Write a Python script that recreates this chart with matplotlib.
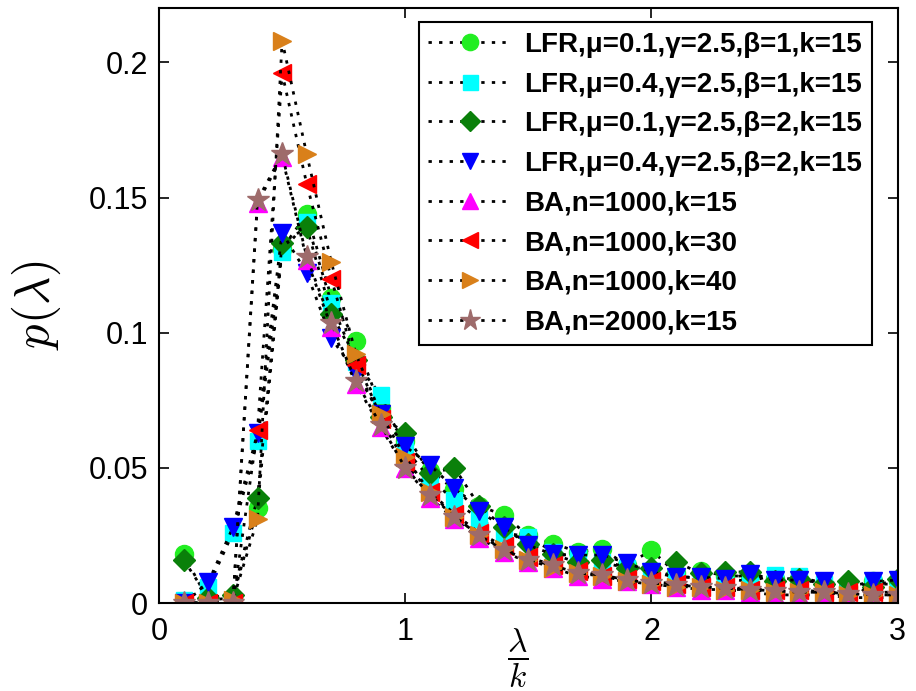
import numpy as np
import matplotlib
matplotlib.use("Agg")
import matplotlib.pyplot as plt

plt.rcParams['font.family'] = ['Liberation Sans', 'DejaVu Sans']
plt.rcParams['mathtext.fontset'] = 'cm'

# lambda / k
x = np.round(np.arange(1, 31) * 0.1, 1)

lfr_mu01_b1 = [0.018, 0.001, 0.002, 0.035, 0.131, 0.144, 0.113, 0.097, 0.072, 0.060,
               0.049, 0.042, 0.036, 0.0325, 0.025, 0.022, 0.019, 0.020, 0.014, 0.0196,
               0.011, 0.012, 0.010, 0.010, 0.009, 0.009, 0.007, 0.006, 0.008, 0.008]
lfr_mu04_b1 = [0.001, 0.006, 0.026, 0.060, 0.130, 0.141, 0.111, 0.089, 0.077, 0.057,
               0.046, 0.038, 0.031, 0.026, 0.0245, 0.019, 0.0165, 0.015, 0.013, 0.012,
               0.010, 0.009, 0.009, 0.008, 0.0104, 0.010, 0.007, 0.006, 0.007, 0.007]
lfr_mu01_b2 = [0.016, 0.002, 0.003, 0.039, 0.133, 0.139, 0.107, 0.090, 0.069, 0.063,
               0.048, 0.050, 0.036, 0.028, 0.022, 0.018, 0.015, 0.016, 0.013, 0.013,
               0.0152, 0.011, 0.0115, 0.0115, 0.008, 0.009, 0.007, 0.008, 0.006, 0.009]
lfr_mu04_b2 = [0.000, 0.0077, 0.028, 0.063, 0.137, 0.122, 0.098, 0.085, 0.070, 0.058,
               0.051, 0.0425, 0.034, 0.028, 0.0214, 0.018, 0.0177, 0.0178, 0.0148, 0.0115,
               0.0096, 0.0096, 0.009, 0.0107, 0.0085, 0.0085, 0.008, 0.000, 0.008, 0.0085]
ba_n1000_k15 = [0.0, 0.0, 0.0, 0.148, 0.165, 0.127, 0.102, 0.081, 0.065, 0.050,
                0.039, 0.031, 0.024, 0.019, 0.015, 0.013, 0.010, 0.009, 0.008, 0.007,
                0.006, 0.005, 0.005, 0.004, 0.003, 0.003, 0.003, 0.002, 0.002, 0.002]
ba_n1000_k30 = [0.0, 0.0, 0.0, 0.064, 0.196, 0.155, 0.120, 0.088, 0.068, 0.052,
                0.041, 0.033, 0.026, 0.021, 0.017, 0.014, 0.012, 0.010, 0.009, 0.008,
                0.007, 0.006, 0.006, 0.005, 0.005, 0.005, 0.004, 0.004, 0.004, 0.004]
ba_n1000_k40 = [0.0, 0.0, 0.001, 0.031, 0.208, 0.166, 0.126, 0.092, 0.070, 0.054,
                0.041, 0.032, 0.025, 0.020, 0.016, 0.013, 0.011, 0.010, 0.008, 0.007,
                0.006, 0.006, 0.005, 0.005, 0.004, 0.004, 0.004, 0.003, 0.003, 0.003]
ba_n2000_k15 = [0.0, 0.0, 0.0, 0.149, 0.166, 0.128, 0.1035, 0.082, 0.066, 0.050,
                0.040, 0.032, 0.025, 0.0196, 0.016, 0.014, 0.011, 0.0104, 0.0085, 0.0074,
                0.0067, 0.006, 0.0055, 0.005, 0.0045, 0.004, 0.004, 0.0035, 0.003, 0.003]

labels = ["LFR,μ=0.1,γ=2.5,β=1,k=15", "LFR,μ=0.4,γ=2.5,β=1,k=15",
          "LFR,μ=0.1,γ=2.5,β=2,k=15", "LFR,μ=0.4,γ=2.5,β=2,k=15",
          "BA,n=1000,k=15", "BA,n=1000,k=30", "BA,n=1000,k=40", "BA,n=2000,k=15"]
series = [lfr_mu01_b1, lfr_mu04_b1, lfr_mu01_b2, lfr_mu04_b2,
          ba_n1000_k15, ba_n1000_k30, ba_n1000_k40, ba_n2000_k15]
markers = ["o", "s", "D", "v", "^", "<", ">", "*"]
colors = ["#22ee22", "#00ffff", "#0a800a", "#0000ff", "#ff00ff", "#ff0000", "#d9801a", "#9e6b6b"]
sizes = [13, 12, 11, 13, 13, 13, 13, 17]

fig = plt.figure(figsize=(9.16, 6.91), dpi=100)
ax = fig.add_axes([0.1736, 0.1273, 0.8064, 0.8607])

for y, lab, m, c, s in zip(series, labels, markers, colors, sizes):
    ax.plot(x, y, linestyle=(0, (1.2, 2.6)), color="black", linewidth=2,
            marker=m, markersize=s, markerfacecolor=c, markeredgecolor=c, label=lab)

ax.set_xlim(0, 3)
ax.set_ylim(0, 0.22)
ax.set_xticks([0, 1, 2, 3])
ax.set_yticks([0, 0.05, 0.1, 0.15, 0.2])
ax.set_yticklabels(["0", "0.05", "0.1", "0.15", "0.2"])
ax.tick_params(direction="in", top=True, right=True, labelsize=22, length=7, width=1.2)
ax.tick_params(axis="y", pad=8)
ax.tick_params(axis="x", pad=10)
for sp in ax.spines.values():
    sp.set_linewidth(1.5)

ax.set_ylabel(r"$p(\lambda)$", fontsize=35)
ax.yaxis.set_label_coords(-0.13, 0.5)
ax.set_xlabel(r"$\dfrac{\lambda}{k}$", fontsize=24)
ax.xaxis.set_label_coords(0.486, -0.04)

leg = ax.legend(loc="upper right", bbox_to_anchor=(0.965, 0.9765),
                prop={'weight': 'bold', 'size': 20}, handlelength=3.0, handletextpad=0.45,
                labelspacing=0.49, borderpad=0.35, borderaxespad=0.0, fancybox=False,
                framealpha=1, edgecolor="black", markerscale=0.9)
leg.get_frame().set_linewidth(1.5)

fig.savefig("out.png", dpi=100)
